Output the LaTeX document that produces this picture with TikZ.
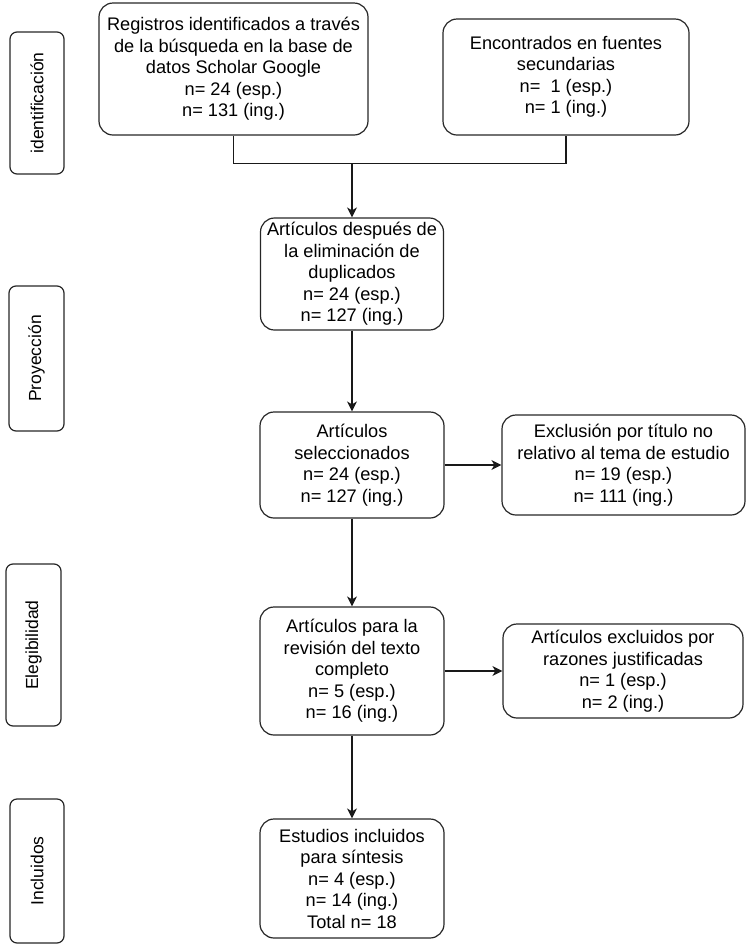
\documentclass[tikz,border=0pt]{standalone}
\usepackage{fontspec}
\setmainfont{Liberation Sans}
\usetikzlibrary{arrows.meta}
\begin{document}
\begin{tikzpicture}[x=1pt,y=-1pt,
  box/.style={draw=black!85, line width=1.2pt, rounded corners=14pt, align=center, inner sep=0pt,
    font=\fontsize{18.2}{21.5}\selectfont},
  side/.style={draw=black!85, line width=1.2pt, rounded corners=7pt, inner sep=0pt,
    font=\fontsize{17.5}{21}\selectfont},
  conn/.style={draw=black!90, line width=1.2pt},
  arr/.style={conn, -{Stealth[length=10pt,width=10pt,inset=3pt]}}]
\useasboundingbox (0,0) rectangle (751,946);
% side boxes
\node[side, minimum width=54pt, minimum height=142pt] (s1) at (37,103) {};
\node[rotate=90, font=\fontsize{17.5}{21}\selectfont] (t1) at (s1.center) {identificación};
\node[side, minimum width=55pt, minimum height=145pt] (s2) at (36.5,358.5) {};
\node[rotate=90, font=\fontsize{17.5}{21}\selectfont] (t2) at (s2.center) {Proyección};
\node[side, minimum width=55pt, minimum height=162pt] (s3) at (33.5,645) {};
\node[rotate=90, font=\fontsize{17.5}{21}\selectfont] (t3) at (s3.center) {Elegibilidad};
\node[side, minimum width=54pt, minimum height=144pt] (s4) at (37,871) {};
\node[rotate=90, font=\fontsize{17.5}{21}\selectfont] (t4) at (s4.center) {Incluidos};
% main boxes
\node[box, minimum width=269pt, minimum height=132pt] (b1) at (233.5,69)
  {Registros identificados a través\\de la búsqueda en la base de\\datos Scholar Google\\n= 24 (esp.)\\n= 131 (ing.)};
\node[box, minimum width=246pt, minimum height=116pt] (b2) at (566,77)
  {Encontrados en fuentes\\secundarias\\n=\ \ 1 (esp.)\\n= 1 (ing.)};
\node[box, minimum width=183pt, minimum height=112pt] (b3) at (352,274)
  {Artículos después de\\la eliminación de\\duplicados\\n= 24 (esp.)\\n= 127 (ing.)};
\node[box, minimum width=184pt, minimum height=106pt] (b4) at (352,465)
  {Artículos\\seleccionados\\n= 24 (esp.)\\n= 127 (ing.)};
\node[box, minimum width=243pt, minimum height=100pt] (b5) at (623.5,465)
  {Exclusión por título no\\relativo al tema de estudio\\n= 19 (esp.)\\n= 111 (ing.)};
\node[box, minimum width=184pt, minimum height=128pt] (b6) at (352,671)
  {Artículos para la\\revisión del texto\\completo\\n= 5 (esp.)\\n= 16 (ing.)};
\node[box, minimum width=240pt, minimum height=94pt] (b7) at (623,671)
  {Artículos excluidos por\\razones justificadas\\n= 1 (esp.)\\n= 2 (ing.)};
\node[box, minimum width=184pt, minimum height=119pt] (b8) at (352,878.5)
  {Estudios incluidos\\para síntesis\\n= 4 (esp.)\\n= 14 (ing.)\\Total n= 18};
% connectors
\coordinate (j) at (352,163);
\draw[conn] (b1.south) -- ++(0,28) -| (b2.south);
\draw[arr] (j) -- (b3.north);
\draw[arr] (b3.south) -- (b4.north);
\draw[arr] (b4.east) -- (b5.west);
\draw[arr] (b4.south) -- (b6.north);
\draw[arr] (b6.east) -- (b7.west);
\draw[arr] (b6.south) -- (b8.north);
\end{tikzpicture}
\end{document}
